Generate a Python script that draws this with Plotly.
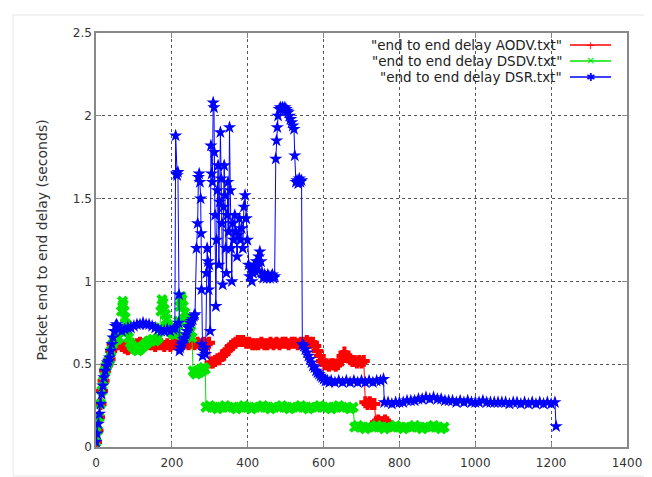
import plotly.graph_objects as go

# ---------------- data ----------------
aodv_x = [0, 4, 8, 12, 16, 20, 24, 28, 32, 36, 40, 44, 48, 52, 56,
          60, 68, 76, 84, 92, 100, 108, 116, 124, 132, 140, 148, 156, 164, 172, 180, 188, 196,
          204, 212, 220, 228, 236, 244, 252, 260, 268, 276, 284, 292, 298,
          302, 308, 314, 320, 326, 332, 338, 344, 350, 356, 362, 368, 374, 380, 388, 396,
          404, 412, 420, 428, 436, 444, 452, 460, 468, 476, 484, 492, 500, 508, 516, 524,
          532, 540, 548, 556, 564, 572, 578, 584, 590, 596, 602, 608, 614, 620, 626, 632,
          638, 644, 650, 655, 660, 665, 670, 676, 682, 688, 694, 700, 706,
          710, 716, 722, 728, 734, 738, 744, 750, 756, 762, 768]
aodv_y = [0.03, 0.10, 0.18, 0.26, 0.34, 0.40, 0.46, 0.49, 0.51, 0.53, 0.58, 0.62, 0.62, 0.62, 0.63,
          0.62, 0.61, 0.60, 0.59, 0.60, 0.61, 0.62, 0.63, 0.62, 0.63, 0.62, 0.62, 0.61, 0.62, 0.62, 0.61, 0.62, 0.61,
          0.62, 0.62, 0.61, 0.62, 0.63, 0.62, 0.63, 0.62, 0.63, 0.62, 0.63, 0.62, 0.63,
          0.51, 0.51, 0.52, 0.53, 0.53, 0.55, 0.56, 0.58, 0.59, 0.61, 0.62, 0.63, 0.64, 0.64, 0.64, 0.63,
          0.63, 0.62, 0.62, 0.62, 0.63, 0.62, 0.62, 0.63, 0.62, 0.63, 0.62, 0.63, 0.63, 0.62, 0.63, 0.63,
          0.62, 0.63, 0.63, 0.64, 0.63, 0.63, 0.61, 0.58, 0.55, 0.52, 0.50, 0.50, 0.49, 0.50, 0.50, 0.49,
          0.50, 0.52, 0.55, 0.57, 0.55, 0.54, 0.53, 0.52, 0.52, 0.51, 0.52, 0.51, 0.52,
          0.27, 0.26, 0.27, 0.26, 0.26, 0.15, 0.16, 0.15, 0.15, 0.16, 0.15]

dsdv_x = [0, 4, 8, 12, 16, 20, 24, 28, 32, 36, 40, 44, 48, 52, 56, 60,
          64, 67, 70, 72, 74, 77, 80, 83, 86, 90, 95, 100, 105, 110, 115, 120, 125, 130, 135,
          140, 145, 150, 155, 160, 165, 168, 171, 174, 177, 180, 183, 186, 189, 192, 196, 200,
          205, 210, 215, 218, 221, 224, 227, 230, 234, 238, 242, 246, 250, 253,
          256, 260, 264, 268, 272, 276, 280, 284, 288,
          290, 300, 310, 320, 330, 340, 350, 360, 370, 380, 390, 400, 410, 420, 430, 440, 450,
          460, 470, 480, 490, 500, 510, 520, 530, 540, 550, 560, 570, 580, 590, 600, 610, 620,
          630, 640, 650, 660, 670, 678,
          682, 690, 700, 710, 720, 730, 740, 750, 760, 770, 780, 790, 800, 810, 820, 830, 840,
          850, 860, 870, 880, 890, 900, 910, 918]
dsdv_y = [0.03, 0.10, 0.18, 0.26, 0.34, 0.40, 0.46, 0.49, 0.51, 0.53, 0.58, 0.62, 0.64, 0.65, 0.65, 0.66,
          0.70, 0.82, 0.88, 0.86, 0.82, 0.78, 0.74, 0.70, 0.66, 0.63, 0.61, 0.60, 0.59, 0.58, 0.59, 0.60, 0.61, 0.62, 0.63,
          0.64, 0.64, 0.65, 0.64, 0.65, 0.66, 0.72, 0.82, 0.89, 0.87, 0.83, 0.80, 0.77, 0.74, 0.72, 0.70, 0.69,
          0.68, 0.68, 0.70, 0.76, 0.85, 0.91, 0.89, 0.85, 0.81, 0.78, 0.75, 0.72, 0.70, 0.66,
          0.46, 0.45, 0.44, 0.46, 0.45, 0.47, 0.46, 0.48, 0.47,
          0.24, 0.25, 0.24, 0.23, 0.24, 0.25, 0.24, 0.24, 0.23, 0.24, 0.25, 0.24, 0.23, 0.24, 0.24, 0.25, 0.24,
          0.23, 0.24, 0.24, 0.25, 0.24, 0.23, 0.24, 0.24, 0.25, 0.24, 0.23, 0.24, 0.24, 0.25, 0.24, 0.24, 0.23,
          0.24, 0.25, 0.24, 0.24, 0.23, 0.24,
          0.12, 0.13, 0.12, 0.11, 0.12, 0.12, 0.13, 0.12, 0.11, 0.12, 0.12, 0.13, 0.12, 0.11, 0.12, 0.12, 0.13,
          0.12, 0.11, 0.12, 0.12, 0.13, 0.12, 0.11, 0.12]

dsr_x = [0, 3, 6, 9, 12, 15, 18, 21, 24, 27, 30, 33, 36, 39, 42, 45, 48, 51, 54, 57,
         60, 68, 76, 84, 92, 100, 108, 116, 124, 132, 140, 148, 156, 164, 172, 180, 188, 196, 204, 208,
         210, 212, 214, 216, 218, 219, 220, 222, 225, 228, 231, 234, 237, 240, 243, 246, 249, 252, 255, 258, 261,
         265, 268, 270, 272, 274, 276, 277, 278, 279, 281, 284, 287, 289, 291, 293, 295, 297, 299, 301,
         303, 305, 307, 309, 311, 312, 314, 316, 318, 320, 322, 324, 326, 328, 330, 332, 334, 336, 338,
         340, 342, 344, 346, 348, 350, 352, 354, 356, 358, 360, 363, 366, 369, 372, 375, 378, 381, 384,
         387, 390, 393, 396, 399, 402, 405, 408, 411, 414, 417, 420, 423, 426, 429, 432, 435, 438, 441,
         444, 447, 450, 453, 456, 459, 462, 465, 468, 471, 474, 476, 478, 480, 483, 486, 489, 492, 495,
         498, 501, 504, 507, 510, 513, 516, 519, 522, 524, 527, 530, 533, 536, 539, 542,
         544, 548, 552, 556, 560, 564, 568, 572, 576, 580, 584, 588, 592, 596, 600, 605, 610, 615, 620,
         630, 640, 650, 660, 670, 680, 690, 700, 710, 720, 730, 740, 750, 758,
         760, 770, 780, 790, 800, 810, 820, 830, 840, 850, 860, 870, 880, 890, 900, 910, 920, 930, 940,
         950, 960, 970, 980, 990, 1000, 1010, 1020, 1030, 1040, 1050, 1060, 1070, 1080, 1090, 1100,
         1110, 1120, 1130, 1140, 1150, 1160, 1170, 1180, 1190, 1200, 1210, 1213]
dsr_y = [0.03, 0.08, 0.14, 0.20, 0.26, 0.32, 0.37, 0.42, 0.46, 0.49, 0.51, 0.52, 0.54, 0.58, 0.62, 0.66, 0.70, 0.73, 0.74, 0.73,
         0.71, 0.70, 0.71, 0.72, 0.72, 0.73, 0.74, 0.74, 0.75, 0.74, 0.74, 0.73, 0.72, 0.71, 0.70, 0.70, 0.71, 0.70, 0.71, 0.72,
         1.88, 1.65, 1.64, 1.66, 0.75, 0.92, 0.58, 0.60, 0.62, 0.63, 0.65, 0.66, 0.68, 0.70, 0.72, 0.73, 0.75, 0.76, 0.77, 0.79, 0.80,
         1.20, 1.35, 1.63, 1.65, 1.60, 1.50, 1.29, 0.95, 0.62, 0.55, 0.58, 0.60, 0.56, 1.05, 1.20, 1.12, 0.95, 1.10, 0.70,
         1.82, 1.65, 1.60, 2.08, 2.05, 1.78, 1.40, 0.85, 1.25, 1.55, 1.70, 1.10, 1.48, 1.90, 1.62, 1.35, 0.98, 1.45, 1.70,
         1.52, 1.20, 1.05, 1.40, 1.60, 1.30, 1.93, 1.55, 1.20, 1.00, 1.35, 1.25, 1.40, 1.30, 1.15, 1.28, 1.38, 1.25, 1.32,
         1.20, 1.45, 1.52, 1.38, 1.25, 1.10, 1.03, 1.08, 1.00, 1.05, 1.10, 1.06, 1.12, 1.09, 1.15, 1.18, 1.12, 1.05, 1.02,
         1.04, 1.03, 1.02, 1.04, 1.03, 1.02, 1.03, 1.04, 1.02, 1.03, 1.74, 1.85, 1.93, 2.00, 2.04, 2.05, 2.04, 2.05, 2.04,
         2.05, 2.04, 2.03, 2.02, 2.00, 1.98, 1.96, 1.94, 1.92, 1.76, 1.60, 1.61, 1.59, 1.62, 1.60, 1.61,
         0.62, 0.61, 0.59, 0.57, 0.55, 0.53, 0.51, 0.49, 0.48, 0.46, 0.45, 0.44, 0.43, 0.42, 0.41, 0.40, 0.40, 0.39, 0.40,
         0.39, 0.40, 0.39, 0.40, 0.39, 0.40, 0.39, 0.40, 0.39, 0.40, 0.39, 0.40, 0.40, 0.41,
         0.27, 0.27, 0.26, 0.27, 0.27, 0.27, 0.28, 0.28, 0.28, 0.29, 0.29, 0.30, 0.29, 0.30, 0.29, 0.29, 0.28, 0.28, 0.28,
         0.27, 0.28, 0.27, 0.28, 0.27, 0.27, 0.27, 0.28, 0.27, 0.27, 0.27, 0.27, 0.27, 0.27, 0.26, 0.27,
         0.27, 0.26, 0.27, 0.26, 0.27, 0.26, 0.27, 0.26, 0.27, 0.26, 0.27, 0.125]

legend_labels = ['"end to end delay AODV.txt"', '"end to end delay DSDV.txt"', '"end to end delay DSR.txt"']
x_ticks = [0, 200, 400, 600, 800, 1000, 1200, 1400]
y_ticks = [0, 0.5, 1, 1.5, 2, 2.5]
y_tick_text = ["0", "0.5", "1", "1.5", "2", "2.5"]

colors = ["#ff0000", "#00e600", "#0000ff"]
symbols = ["cross", "x", "star"]

# ---------------- figure ----------------
fig = go.Figure()
series = [(aodv_x, aodv_y), (dsdv_x, dsdv_y), (dsr_x, dsr_y)]
for (xs, ys), c, s, name in zip(series, colors, symbols, legend_labels):
    fig.add_trace(go.Scatter(
        x=xs, y=ys, mode="lines+markers", name=name,
        line=dict(color=c, width=1),
        marker=dict(color=c, symbol=s, size=10),
        showlegend=False,
    ))

FONT = "DejaVu Sans, sans-serif"
axis_common = dict(
    showline=True, linecolor="#888888", linewidth=1.5, mirror="ticks",
    ticks="inside", ticklen=5, tickcolor="#888888",
    showgrid=True, gridcolor="#555555", gridwidth=1.3, griddash="dot",
    zeroline=False, automargin=False,
    tickfont=dict(family=FONT, size=12, color="#333333"),
)
fig.update_xaxes(range=[0, 1400], tickvals=x_ticks, ticklabelstandoff=4, **axis_common)
fig.update_yaxes(range=[0, 2.5], tickvals=y_ticks, ticktext=y_tick_text,
                 title=dict(text="Packet end to end delay (seconds)",
                            font=dict(family=FONT, size=14, color="#333333"), standoff=22),
                 **axis_common)

# page is offset by the 8px body margin; work in page pixels
OFF = 8
W, H = 644, 469
plot_left, plot_right, plot_top, plot_bottom = 96, 627, 33, 447
plot_w = plot_right - plot_left
plot_h = plot_bottom - plot_top

def px_to_paper_x(px):
    return (px - plot_left) / plot_w

def px_to_paper_y(py):
    return 1 - (py - plot_top) / plot_h

# gnuplot-style legend: right-aligned text followed by a sample line
leg_rows_px = [45, 61, 77]
markers_txt = ["+", "×", "✱"]
for lab, c, py, mt in zip(legend_labels, colors, leg_rows_px, markers_txt):
    yy = px_to_paper_y(py)
    fig.add_annotation(x=px_to_paper_x(564), y=yy, xref="paper", yref="paper",
                       text=lab, showarrow=False, xanchor="right", yanchor="middle",
                       font=dict(family=FONT, size=13.5, color="#222222"))
    fig.add_shape(type="line", xref="paper", yref="paper",
                  x0=px_to_paper_x(570), x1=px_to_paper_x(611), y0=yy, y1=yy,
                  line=dict(color=c, width=1.5))
    fig.add_annotation(x=px_to_paper_x(590), y=yy, xref="paper", yref="paper",
                       text=mt, showarrow=False, xanchor="center", yanchor="middle",
                       font=dict(family=FONT, size=11, color=c))

# faint outer frame of the picture
fig.add_shape(type="rect", xref="paper", yref="paper",
              x0=px_to_paper_x(13), x1=px_to_paper_x(651),
              y0=px_to_paper_y(476), y1=px_to_paper_y(15),
              line=dict(color="#e6e6e6", width=1), layer="below")

fig.update_layout(
    width=W, height=H,
    margin=dict(l=plot_left - OFF, r=W - (plot_right - OFF), t=plot_top - OFF, b=H - (plot_bottom - OFF)),
    paper_bgcolor="white", plot_bgcolor="white",
    font=dict(family=FONT, size=12, color="#333333"),
)

fig.write_html("out.html")
